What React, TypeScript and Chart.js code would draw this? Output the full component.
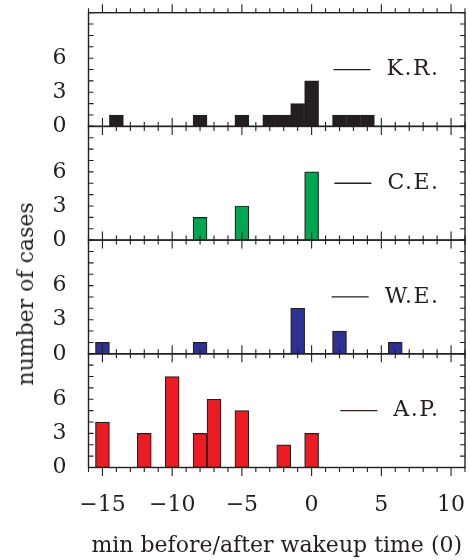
import React, { useEffect, useRef } from 'react';
import { Chart, registerables } from 'chart.js';

Chart.register(...registerables);

// ---- data -------------------------------------------------------------
const MINUTES = [-15, -14, -13, -12, -11, -10, -9, -8, -7, -6, -5, -4, -3, -2, -1, 0, 1, 2, 3, 4, 5, 6];
const KR = [0, 1, 0, 0, 0, 0, 0, 1, 0, 0, 1, 0, 1, 1, 2, 4, 0, 1, 1, 1, 0, 0];
const CE = [0, 0, 0, 0, 0, 0, 0, 2, 0, 0, 3, 0, 0, 0, 0, 6, 0, 0, 0, 0, 0, 0];
const WE = [1, 0, 0, 0, 0, 0, 0, 1, 0, 0, 0, 0, 0, 0, 4, 0, 0, 2, 0, 0, 0, 1];
const AP = [4, 0, 0, 3, 0, 8, 0, 3, 6, 0, 5, 0, 0, 2, 0, 3, 0, 0, 0, 0, 0, 0];
const SERIES = [KR, CE, WE, AP];
const SERIES_LABELS = ['K.R.', 'C.E.', 'W.E.', 'A.P.'];
const Y_TICK_LABELS = [0, 3, 6];
const X_TICK_LABELS = [-15, -10, -5, 0, 5, 10];
const X_TITLE = 'min before/after wakeup time (0)';
const Y_TITLE = 'number of cases';

// ---- styles -----------------------------------------------------------
const FONT = "'DejaVu Serif', serif";
const INK = '#231f20';
const FILLS = ['#231f20', '#00a651', '#2e3192', '#ed1c24'];
const LEGEND_LINES = ['#231f20', '#231f20', '#231f20', '#3b1f22'];

const X_MIN = -16;
const X_MAX = 11;
const Y_MIN = 0;
const Y_MAX = 10;

const PANEL_TOPS = [12.7, 126.4, 240.1, 353.8];
const PANEL_H = 113.7;
const PLOT_LEFT = 88.5;
const PLOT_RIGHT_PAD = 5;
const W = 470;
const PAGE_H = 560;

const framePlugin = {
  id: 'frameTicks',
  afterDatasetsDraw(chart: any) {
    const { ctx, chartArea } = chart;
    const { left, right, top, bottom } = chartArea;
    const x = chart.scales.x;
    const y = chart.scales.y;
    ctx.save();
    ctx.strokeStyle = INK;
    ctx.lineWidth = 1.1;
    ctx.beginPath();
    x.ticks.forEach((t: any) => {
      const px = x.getPixelForValue(t.value);
      const len = t.value % 5 === 0 ? 8.5 : 4.5;
      ctx.moveTo(px, top);
      ctx.lineTo(px, top - len);
      ctx.moveTo(px, bottom);
      ctx.lineTo(px, bottom + len);
    });
    y.ticks.forEach((t: any) => {
      const py = y.getPixelForValue(t.value);
      ctx.moveTo(left, py);
      ctx.lineTo(left + 5, py);
      ctx.moveTo(right, py);
      ctx.lineTo(right - 5, py);
    });
    ctx.stroke();
    ctx.lineWidth = 1.4;
    ctx.strokeRect(left, top, right - left, bottom - top);
    ctx.restore();
  },
};

const legendPlugin = {
  id: 'lineLegend',
  afterDraw(chart: any, _args: any, opts: any) {
    const { ctx, chartArea } = chart;
    const { right, top, bottom } = chartArea;
    ctx.save();
    ctx.font = `22px ${FONT}`;
    (ctx as any).letterSpacing = '1.5px';
    ctx.fillStyle = INK;
    ctx.textAlign = 'left';
    ctx.textBaseline = 'middle';
    const yMid = top + (bottom - top) * 0.5;
    const w = ctx.measureText(opts.text).width - 1.5;
    const tx = right - 27 - w;
    ctx.fillText(opts.text, tx, yMid);
    ctx.strokeStyle = opts.lineColor;
    ctx.lineWidth = 1.3;
    ctx.beginPath();
    ctx.moveTo(tx - 16 - 37, yMid);
    ctx.lineTo(tx - 16, yMid);
    ctx.stroke();
    ctx.restore();
  },
};

const fmt = (v: number) => (v < 0 ? '\u2212' + Math.abs(v) : String(v));

function panelGeometry(i: number) {
  const canvasTop = Math.floor(PANEL_TOPS[i]) - 12;
  const padTop = PANEL_TOPS[i] - canvasTop;
  const height = i === 3 ? PAGE_H - canvasTop : Math.ceil(padTop + PANEL_H + 12);
  const xh = height - padTop - PANEL_H;
  return { canvasTop, padTop, height, xh };
}

export default function App() {
  const refs = [useRef<HTMLCanvasElement>(null), useRef<HTMLCanvasElement>(null), useRef<HTMLCanvasElement>(null), useRef<HTMLCanvasElement>(null)];

  useEffect(() => {
    const charts: Chart[] = [];
    SERIES.forEach((vals, i) => {
      const canvas = refs[i].current;
      if (!canvas) return;
      const g = panelGeometry(i);
      const isBottom = i === 3;
      const chart = new Chart(canvas, {
        type: 'bar',
        data: {
          datasets: [
            {
              label: SERIES_LABELS[i],
              data: MINUTES.map((m, k) => ({ x: m, y: vals[k] })),
              backgroundColor: FILLS[i],
              borderColor: INK,
              borderWidth: 1.2,
              borderSkipped: false,
              barPercentage: 1,
              categoryPercentage: 1,
            },
          ],
        },
        plugins: [framePlugin, legendPlugin],
        options: {
          responsive: false,
          animation: false,
          layout: { autoPadding: false, padding: { top: g.padTop, right: PLOT_RIGHT_PAD, bottom: 0, left: 0 } },
          plugins: {
            legend: { display: false },
            tooltip: { enabled: false },
            lineLegend: { text: SERIES_LABELS[i], lineColor: LEGEND_LINES[i] },
          } as any,
          scales: {
            x: {
              type: 'linear',
              min: X_MIN,
              max: X_MAX,
              offset: false,
              grid: { display: false, drawTicks: false },
              border: { display: false },
              afterFit: (s: any) => {
                s.height = g.xh;
                s.paddingLeft = 0;
                s.paddingRight = 0;
              },
              ticks: {
                display: isBottom,
                stepSize: 1,
                autoSkip: false,
                includeBounds: false,
                maxRotation: 0,
                padding: 25,
                color: INK,
                font: { family: FONT, size: 22 },
                callback: (v: any) => (X_TICK_LABELS.includes(Number(v)) ? fmt(Number(v)) : ''),
              },
              title: {
                display: isBottom,
                text: X_TITLE,
                color: INK,
                font: { family: FONT, size: 22 },
                padding: { top: 0, bottom: 1 },
              },
            },
            y: {
              min: Y_MIN,
              max: Y_MAX,
              grid: { display: false, drawTicks: false },
              border: { display: false },
              afterFit: (s: any) => {
                s.width = PLOT_LEFT;
                s.paddingTop = 0;
                s.paddingBottom = 0;
              },
              ticks: {
                stepSize: 1,
                autoSkip: false,
                padding: 22,
                color: INK,
                font: { family: FONT, size: 22 },
                callback: (v: any) => (Y_TICK_LABELS.includes(Number(v)) ? String(v) : ''),
              },
            },
          },
        } as any,
      });
      charts.push(chart);
    });
    return () => charts.forEach((c) => c.destroy());
  }, []);

  return (
    <div style={{ position: 'absolute', left: 0, top: 0, width: W, height: PAGE_H, background: '#fff', overflow: 'hidden' }}>
      {SERIES.map((_, i) => {
        const g = panelGeometry(i);
        return (
          <canvas
            key={i}
            ref={refs[i]}
            width={W}
            height={g.height}
            style={{ position: 'absolute', left: 0, top: g.canvasTop, width: W, height: g.height }}
          />
        );
      })}
      <div
        style={{
          position: 'absolute',
          left: 26,
          top: 294,
          transform: 'translate(-50%, -50%) rotate(-90deg)',
          whiteSpace: 'nowrap',
          fontFamily: FONT,
          fontSize: 22,
          color: INK,
          lineHeight: 1,
        }}
      >
        {Y_TITLE}
      </div>
    </div>
  );
}
